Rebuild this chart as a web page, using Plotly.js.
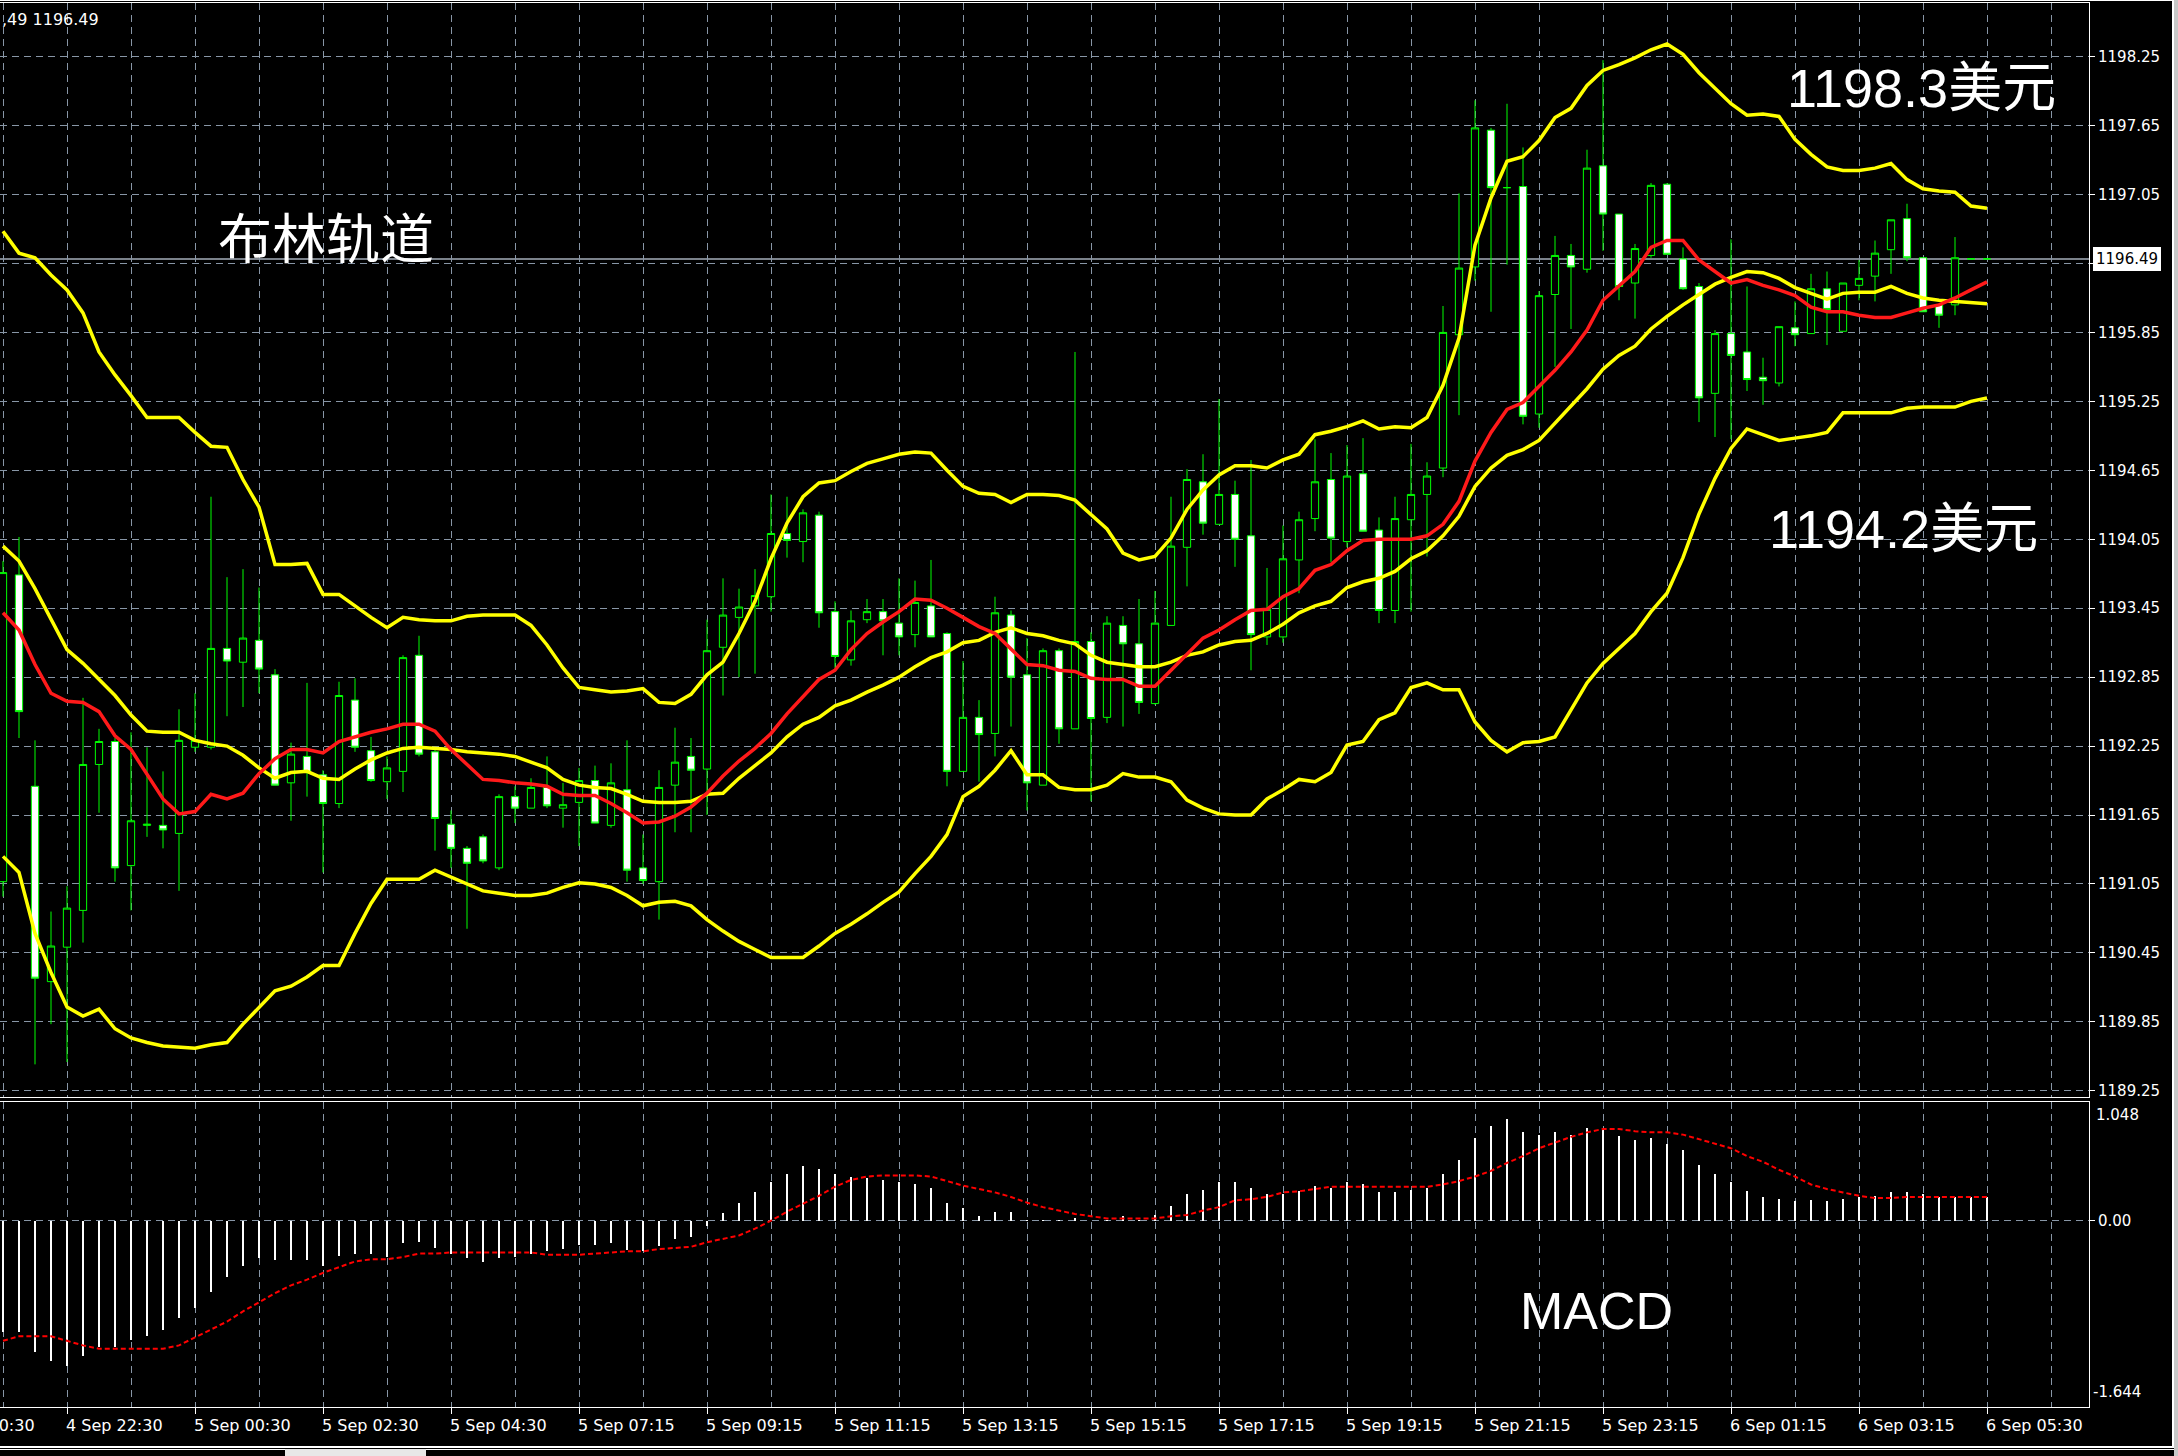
<!DOCTYPE html>
<html><head><meta charset="utf-8">
<script src="https://cdn.plot.ly/plotly-3.0.1.min.js"></script>
<style>html,body{margin:0;padding:0;background:#000;}#chart{width:2178px;height:1456px;}</style>
</head><body><div id="chart"></div>
<script>
// ---- time axis labels (bar index -> label) ----
const timeLabelIndex = [-4,4,12,20,28,36,44,52,60,68,76,84,92,100,108,116,124];
const timeLabels = ['4 Sep 20:30','4 Sep 22:30','5 Sep 00:30','5 Sep 02:30','5 Sep 04:30','5 Sep 07:15','5 Sep 09:15','5 Sep 11:15','5 Sep 13:15','5 Sep 15:15','5 Sep 17:15','5 Sep 19:15','5 Sep 21:15','5 Sep 23:15','6 Sep 01:15','6 Sep 03:15','6 Sep 05:30'];

// ---- price tick labels ----
const priceTicks = [1189.25,1189.85,1190.45,1191.05,1191.65,1192.25,1192.85,1193.45,1194.05,1194.65,1195.25,1195.85,1196.45,1197.05,1197.65,1198.25];
const macdTopLabel = 1.048, macdBottomLabel = -1.644;

// ---- candles (15-minute bars) ----
const openP = [1191.07,1193.74,1191.90,1190.20,1190.50,1190.82,1192.09,1192.29,1191.21,1191.56,
1191.56,1191.49,1192.24,1192.24,1193.10,1192.98,1193.17,1192.87,1191.93,1192.16,
1192.00,1191.75,1192.65,1192.21,1191.94,1192.03,1193.04,1192.20,1191.57,1191.36,
1191.46,1191.19,1191.81,1191.71,1191.89,1191.71,1191.76,1191.95,1191.56,1191.87,
1191.19,1191.07,1191.91,1192.16,1192.05,1193.11,1193.37,1193.47,1193.55,1194.10,
1194.03,1194.26,1193.42,1193.00,1193.35,1193.42,1193.32,1193.22,1193.47,1193.23,
1192.03,1192.50,1192.36,1193.39,1192.87,1191.91,1193.08,1192.40,1193.16,1192.50,
1193.30,1193.14,1192.62,1193.30,1193.98,1194.55,1194.18,1194.44,1194.08,1193.20,
1193.20,1193.87,1194.23,1194.57,1194.03,1194.62,1194.13,1193.43,1194.22,1194.44,
1194.67,1195.83,1196.42,1197.61,1197.11,1197.12,1195.14,1196.18,1196.52,1196.40,
1197.30,1196.88,1196.28,1196.52,1197.14,1196.49,1196.25,1195.32,1195.84,1195.68,
1195.46,1195.41,1195.89,1195.84,1196.23,1195.86,1196.26,1196.34,1196.57,1196.84,
1196.50,1196.09,1196.09,1196.49,1196.49];
const highP = [1193.86,1194.07,1192.30,1190.81,1191.03,1192.67,1192.40,1192.32,1192.37,1192.24,
1192.03,1192.57,1192.71,1194.42,1193.72,1193.79,1193.63,1192.92,1192.28,1192.80,
1192.04,1192.81,1192.84,1192.33,1192.16,1193.04,1193.21,1192.22,1191.69,1191.38,
1191.48,1191.83,1191.90,1191.97,1192.16,1191.93,1192.06,1192.08,1192.10,1192.30,
1191.48,1192.04,1192.41,1192.32,1193.35,1193.71,1193.62,1193.79,1194.44,1194.42,
1194.31,1194.29,1193.51,1193.43,1193.53,1193.53,1193.71,1193.69,1193.87,1193.24,
1192.99,1192.65,1193.55,1193.43,1193.19,1193.10,1193.10,1195.68,1193.24,1193.38,
1193.38,1193.53,1193.60,1194.42,1194.66,1194.79,1195.27,1194.56,1194.74,1193.80,
1194.17,1194.29,1194.92,1194.80,1194.87,1194.93,1194.24,1194.42,1194.88,1194.72,
1196.08,1197.06,1197.87,1197.63,1197.84,1197.46,1196.21,1196.69,1196.62,1197.44,
1198.22,1196.88,1196.62,1197.15,1197.15,1196.59,1196.28,1195.87,1196.66,1196.25,
1195.63,1195.90,1196.12,1196.36,1196.38,1196.28,1196.48,1196.65,1196.83,1196.97,
1196.50,1196.09,1196.68,1196.49,1196.49];
const lowP = [1190.94,1192.32,1189.48,1189.83,1189.50,1190.54,1191.67,1191.07,1190.82,1191.46,
1191.36,1190.99,1192.20,1192.22,1192.51,1192.59,1192.71,1191.91,1191.60,1191.81,
1191.15,1191.71,1192.20,1191.94,1191.79,1191.85,1192.16,1191.34,1191.19,1190.66,
1191.23,1191.17,1191.58,1191.71,1191.71,1191.54,1191.38,1191.58,1191.54,1191.07,
1191.05,1190.74,1191.50,1191.50,1191.65,1192.69,1192.85,1192.88,1193.42,1193.89,
1193.85,1193.28,1192.93,1192.95,1193.32,1193.04,1193.04,1193.11,1193.20,1191.90,
1192.03,1191.94,1192.16,1192.42,1191.69,1191.91,1192.27,1192.40,1191.77,1192.45,
1192.42,1192.53,1192.61,1193.30,1193.64,1194.09,1194.18,1193.81,1192.91,1193.13,
1193.15,1193.58,1194.12,1193.85,1193.98,1194.12,1193.32,1193.32,1193.42,1193.90,
1194.59,1195.13,1196.30,1196.03,1196.44,1195.05,1195.02,1195.55,1195.88,1196.37,
1196.56,1196.13,1195.97,1196.50,1196.53,1196.22,1195.07,1194.94,1194.92,1195.34,
1195.22,1195.38,1195.73,1195.84,1195.74,1195.86,1196.13,1196.12,1196.36,1196.47,
1196.03,1195.89,1196.00,1196.49,1196.49];
const closeP = [1193.76,1192.55,1190.23,1190.51,1190.84,1192.09,1192.29,1191.19,1191.60,1191.57,
1191.52,1192.30,1192.30,1193.10,1192.99,1193.19,1192.92,1191.91,1192.18,1192.02,
1191.75,1192.69,1192.24,1191.95,1192.06,1193.02,1192.18,1191.62,1191.36,1191.23,
1191.25,1191.81,1191.71,1191.89,1191.73,1191.74,1191.95,1191.58,1191.93,1191.17,
1191.08,1191.89,1192.11,1192.04,1193.08,1193.39,1193.46,1193.56,1194.10,1194.04,
1194.28,1193.41,1193.03,1193.34,1193.42,1193.34,1193.20,1193.50,1193.20,1192.03,
1192.50,1192.35,1193.41,1192.85,1191.93,1193.08,1192.40,1193.16,1192.49,1193.32,
1193.14,1192.63,1193.32,1193.99,1194.57,1194.19,1194.44,1194.05,1193.22,1193.44,
1193.88,1194.22,1194.55,1194.06,1194.60,1194.12,1193.43,1194.23,1194.44,1194.60,
1195.85,1196.41,1197.63,1197.11,1197.11,1195.12,1196.17,1196.52,1196.42,1197.28,
1196.88,1196.25,1196.58,1197.13,1196.53,1196.23,1195.28,1195.84,1195.65,1195.44,
1195.43,1195.90,1195.83,1196.23,1196.05,1196.28,1196.32,1196.54,1196.83,1196.50,
1196.03,1196.00,1196.50,1196.49,1196.49];

// ---- Bollinger bands & moving average ----
const bbUpper = [1196.73,1196.54,1196.50,1196.35,1196.22,1196.02,1195.68,1195.48,1195.30,1195.11,
1195.11,1195.11,1194.98,1194.86,1194.85,1194.57,1194.33,1193.83,1193.83,1193.84,
1193.57,1193.57,1193.47,1193.37,1193.28,1193.37,1193.35,1193.34,1193.34,1193.38,
1193.39,1193.39,1193.39,1193.30,1193.13,1192.93,1192.76,1192.74,1192.72,1192.73,
1192.75,1192.63,1192.62,1192.70,1192.87,1192.98,1193.23,1193.51,1193.88,1194.19,
1194.42,1194.54,1194.56,1194.64,1194.71,1194.75,1194.79,1194.81,1194.80,1194.65,
1194.51,1194.45,1194.44,1194.37,1194.44,1194.44,1194.43,1194.39,1194.26,1194.14,
1193.93,1193.87,1193.90,1194.06,1194.31,1194.48,1194.61,1194.69,1194.69,1194.67,
1194.74,1194.79,1194.96,1194.99,1195.03,1195.08,1195.01,1195.03,1195.02,1195.11,
1195.39,1195.80,1196.61,1197.02,1197.34,1197.38,1197.52,1197.72,1197.80,1198.00,
1198.13,1198.18,1198.24,1198.31,1198.36,1198.27,1198.11,1197.97,1197.84,1197.74,
1197.75,1197.73,1197.53,1197.40,1197.29,1197.26,1197.26,1197.28,1197.32,1197.18,
1197.10,1197.08,1197.07,1196.95,1196.93];
const bbMiddle = [1193.99,1193.86,1193.62,1193.35,1193.09,1192.97,1192.83,1192.69,1192.52,1192.38,
1192.37,1192.37,1192.30,1192.27,1192.25,1192.17,1192.06,1191.97,1192.02,1192.03,
1191.97,1191.96,1192.05,1192.13,1192.19,1192.23,1192.24,1192.23,1192.22,1192.20,
1192.19,1192.18,1192.16,1192.11,1192.06,1191.96,1191.91,1191.89,1191.88,1191.83,
1191.77,1191.76,1191.76,1191.77,1191.83,1191.84,1191.97,1192.08,1192.19,1192.33,
1192.44,1192.50,1192.60,1192.65,1192.72,1192.78,1192.85,1192.94,1193.02,1193.07,
1193.15,1193.17,1193.24,1193.28,1193.23,1193.21,1193.17,1193.14,1193.04,1192.98,
1192.96,1192.94,1192.94,1192.98,1193.04,1193.07,1193.13,1193.16,1193.17,1193.23,
1193.31,1193.41,1193.47,1193.51,1193.63,1193.68,1193.71,1193.77,1193.88,1193.95,
1194.08,1194.25,1194.51,1194.67,1194.78,1194.83,1194.91,1195.06,1195.20,1195.36,
1195.53,1195.65,1195.73,1195.88,1195.99,1196.09,1196.18,1196.27,1196.33,1196.38,
1196.37,1196.32,1196.24,1196.19,1196.14,1196.19,1196.20,1196.20,1196.25,1196.19,
1196.15,1196.13,1196.12,1196.11,1196.10];
const bbLower = [1191.29,1191.15,1190.62,1190.28,1189.98,1189.90,1189.96,1189.79,1189.71,1189.67,
1189.64,1189.63,1189.62,1189.65,1189.67,1189.83,1189.98,1190.12,1190.16,1190.24,
1190.34,1190.34,1190.62,1190.88,1191.09,1191.09,1191.09,1191.17,1191.11,1191.05,
1190.99,1190.97,1190.95,1190.95,1190.97,1191.02,1191.06,1191.05,1191.02,1190.95,
1190.86,1190.89,1190.90,1190.86,1190.74,1190.64,1190.55,1190.48,1190.41,1190.41,
1190.41,1190.51,1190.62,1190.70,1190.79,1190.89,1190.98,1191.14,1191.29,1191.48,
1191.81,1191.90,1192.04,1192.21,1192.00,1192.00,1191.89,1191.87,1191.87,1191.91,
1192.01,1191.98,1191.98,1191.94,1191.78,1191.71,1191.66,1191.65,1191.65,1191.79,
1191.87,1191.96,1191.94,1192.02,1192.26,1192.29,1192.48,1192.54,1192.76,1192.80,
1192.74,1192.74,1192.46,1192.30,1192.20,1192.28,1192.29,1192.33,1192.57,1192.80,
1192.97,1193.10,1193.23,1193.42,1193.58,1193.89,1194.27,1194.58,1194.84,1195.01,
1194.96,1194.91,1194.93,1194.95,1194.98,1195.15,1195.15,1195.15,1195.15,1195.19,
1195.20,1195.20,1195.20,1195.25,1195.28];
const maRed = [1193.41,1193.26,1192.96,1192.71,1192.64,1192.63,1192.55,1192.34,1192.22,1192.01,
1191.79,1191.66,1191.68,1191.83,1191.79,1191.84,1192.01,1192.14,1192.22,1192.22,
1192.19,1192.29,1192.33,1192.37,1192.40,1192.44,1192.44,1192.38,1192.22,1192.09,
1191.96,1191.95,1191.93,1191.92,1191.90,1191.83,1191.82,1191.82,1191.75,1191.67,
1191.58,1191.59,1191.64,1191.72,1191.84,1191.99,1192.12,1192.23,1192.36,1192.53,
1192.68,1192.83,1192.91,1193.09,1193.23,1193.33,1193.42,1193.53,1193.52,1193.45,
1193.37,1193.29,1193.23,1193.10,1192.96,1192.95,1192.91,1192.90,1192.84,1192.83,
1192.83,1192.77,1192.77,1192.91,1193.05,1193.19,1193.26,1193.35,1193.43,1193.44,
1193.55,1193.62,1193.78,1193.83,1193.95,1194.04,1194.05,1194.05,1194.05,1194.08,
1194.18,1194.38,1194.73,1194.98,1195.18,1195.24,1195.38,1195.52,1195.68,1195.87,
1196.13,1196.26,1196.38,1196.59,1196.65,1196.65,1196.48,1196.38,1196.28,1196.31,
1196.26,1196.22,1196.17,1196.07,1196.03,1196.03,1196.00,1195.98,1195.98,1196.02,
1196.06,1196.09,1196.15,1196.22,1196.29];

// ---- MACD ----
const macdHist = [-0.98,-0.98,-1.16,-1.24,-1.28,-1.19,-1.11,-1.11,-1.05,-1.02,
-0.96,-0.86,-0.77,-0.63,-0.50,-0.40,-0.33,-0.35,-0.35,-0.35,
-0.40,-0.31,-0.29,-0.29,-0.32,-0.20,-0.19,-0.24,-0.29,-0.33,
-0.36,-0.33,-0.32,-0.29,-0.27,-0.25,-0.21,-0.21,-0.20,-0.26,
-0.27,-0.22,-0.16,-0.14,-0.05,0.07,0.16,0.25,0.34,0.41,
0.48,0.46,0.41,0.39,0.38,0.36,0.34,0.32,0.29,0.16,
0.11,0.04,0.08,0.08,0.01,0.01,0.01,0.02,0.00,0.01,
0.04,0.01,0.05,0.13,0.24,0.27,0.34,0.34,0.29,0.24,
0.24,0.26,0.31,0.29,0.34,0.32,0.25,0.25,0.27,0.29,
0.41,0.54,0.73,0.84,0.90,0.78,0.76,0.78,0.76,0.82,
0.81,0.75,0.71,0.73,0.68,0.62,0.49,0.41,0.34,0.26,
0.21,0.19,0.17,0.18,0.17,0.19,0.21,0.22,0.25,0.25,
0.24,0.21,0.21,0.21,0.21];
const macdSignal = [-1.06,-1.02,-1.02,-1.02,-1.06,-1.10,-1.13,-1.13,-1.13,-1.13,
-1.13,-1.10,-1.03,-0.96,-0.89,-0.80,-0.72,-0.64,-0.57,-0.52,
-0.46,-0.41,-0.36,-0.34,-0.34,-0.32,-0.29,-0.29,-0.28,-0.28,
-0.28,-0.28,-0.28,-0.28,-0.30,-0.30,-0.30,-0.29,-0.28,-0.27,
-0.27,-0.25,-0.24,-0.23,-0.19,-0.16,-0.13,-0.07,0.00,0.08,
0.15,0.22,0.30,0.36,0.39,0.40,0.40,0.40,0.39,0.35,
0.31,0.28,0.25,0.21,0.16,0.12,0.09,0.06,0.04,0.02,
0.02,0.02,0.02,0.04,0.05,0.09,0.12,0.18,0.19,0.21,
0.25,0.26,0.28,0.30,0.30,0.30,0.30,0.30,0.30,0.30,
0.32,0.35,0.39,0.44,0.51,0.57,0.64,0.69,0.74,0.78,
0.81,0.81,0.79,0.78,0.78,0.76,0.72,0.68,0.64,0.57,
0.52,0.45,0.39,0.32,0.28,0.25,0.22,0.20,0.20,0.21,
0.21,0.21,0.21,0.21,0.21];

// ---- build ----
const idx = openP.map((_, i) => i);
const lastPrice = closeP[closeP.length - 1];

const W = 2178, H = 1456;
const mL = 0, mR = 89, mT = 3, mB = 49;
const plotW = W - mL - mR, plotH = H - mT - mB;
const xMin = -0.1875, xMax = 130.375;
const yMin = 1189.196, yMax = 1198.717;
const mainTopPx = 3, mainBotPx = 1097, macdTopPx = 1102, macdBotPx = 1407;
const py = p => (H - mB - p) / plotH;     // pixel row -> paper y
const px = p => (p - mL) / plotW;          // pixel col -> paper x
const ix = i => (i - xMin) / (xMax - xMin);// bar index -> paper x

const gridColor = '#8896a6';
const gridDash = '7px,5px';
const axFont = {family: 'DejaVu Sans', size: 15, color: '#ffffff'};
const dateFont = {family: 'DejaVu Sans', size: 16, color: '#ffffff'};
const yellow = '#ffff00';

const traces = [
  {type: 'candlestick', x: idx, open: openP, high: highP, low: lowP, close: closeP,
   xaxis: 'x', yaxis: 'y', whiskerwidth: 0, hoverinfo: 'skip', showlegend: false,
   increasing: {line: {color: '#00ff00', width: 1}, fillcolor: '#000000'},
   decreasing: {line: {color: '#00ff00', width: 1}, fillcolor: '#ffffff'}},
  {type: 'scatter', mode: 'lines', x: idx, y: bbMiddle, xaxis: 'x', yaxis: 'y', line: {color: yellow, width: 3.5}, hoverinfo: 'skip'},
  {type: 'scatter', mode: 'lines', x: idx, y: bbUpper, xaxis: 'x', yaxis: 'y', line: {color: yellow, width: 3.5}, hoverinfo: 'skip'},
  {type: 'scatter', mode: 'lines', x: idx, y: bbLower, xaxis: 'x', yaxis: 'y', line: {color: yellow, width: 3.5}, hoverinfo: 'skip'},
  {type: 'scatter', mode: 'lines', x: idx, y: maRed, xaxis: 'x', yaxis: 'y', line: {color: '#ff1a1a', width: 3.5}, hoverinfo: 'skip'},
  {type: 'bar', x: idx, y: macdHist, xaxis: 'x2', yaxis: 'y2', width: 0.13, marker: {color: '#ffffff', line: {width: 0}}, hoverinfo: 'skip'},
  {type: 'scatter', mode: 'lines', x: idx, y: macdSignal, xaxis: 'x2', yaxis: 'y2', line: {color: '#ff0000', width: 2, dash: '5px,3px'}, hoverinfo: 'skip'}
];

const annotations = [];
// time labels (left-aligned at their tick like MetaTrader)
timeLabelIndex.forEach((k, j) => {
  annotations.push({xref: 'paper', yref: 'paper', x: ix(k), y: py(1425), xanchor: 'left', yanchor: 'middle',
    xshift: -3, text: timeLabels[j], showarrow: false, font: dateFont});
});
// MACD scale end labels
annotations.push({xref: 'paper', yref: 'y2', x: 1, y: macdTopLabel, xanchor: 'left', yanchor: 'top', xshift: 5, yshift: -2,
  text: macdTopLabel.toFixed(3), showarrow: false, font: axFont});
annotations.push({xref: 'paper', yref: 'y2', x: 1, y: macdBottomLabel, xanchor: 'left', yanchor: 'bottom', xshift: 2, yshift: 4,
  text: macdBottomLabel.toFixed(3), showarrow: false, font: axFont});
// current price box (covers the 1196.45 level label, as in the terminal)
annotations.push({xref: 'paper', yref: 'y', x: 1, y: lastPrice, xanchor: 'left', yanchor: 'middle', xshift: 4,
  text: lastPrice.toFixed(2), showarrow: false, bgcolor: '#ffffff', bordercolor: '#ffffff', borderpad: 2,
  font: {family: 'DejaVu Sans', size: 15, color: '#000000'}});
// header text
annotations.push({xref: 'paper', yref: 'paper', x: 0, y: py(19), xanchor: 'left', yanchor: 'middle',
  text: ',49 1196.49', showarrow: false, font: {family: 'DejaVu Sans', size: 16, color: '#ffffff'}});
// big captions
const capFont = {family: 'Liberation Sans, Noto Sans CJK SC', size: 54, color: '#ffffff'};
annotations.push({xref: 'x', yref: 'y', x: 20.2, y: 1196.69, text: '布林轨道', showarrow: false,
  font: {family: 'Noto Sans CJK SC', size: 54, color: '#ffffff'}});
annotations.push({xref: 'x', yref: 'y', x: 119.9, y: 1197.98, text: '1198.3美元', showarrow: false, font: capFont});
annotations.push({xref: 'x', yref: 'y', x: 118.75, y: 1194.14, text: '1194.2美元', showarrow: false, font: capFont});
annotations.push({xref: 'x2', yref: 'y2', x: 99.6, y: -0.80, text: 'MACD', showarrow: false,
  font: {family: 'Liberation Sans', size: 52, color: '#ffffff'}});

const shapes = [
  // bid price line
  {type: 'line', xref: 'paper', yref: 'y', x0: 0, x1: 1, y0: lastPrice, y1: lastPrice, layer: 'between',
   line: {color: '#a4aeba', width: 1.5}},
  // window frame
  {type: 'line', xref: 'paper', yref: 'paper', x0: px(0), x1: px(2174), y0: py(0.5), y1: py(0.5), line: {color: '#ffffff', width: 1}},
  {type: 'line', xref: 'paper', yref: 'paper', x0: px(2173), x1: px(2173), y0: py(0), y1: py(1447), line: {color: '#ffffff', width: 2}},
  {type: 'rect', xref: 'paper', yref: 'paper', x0: px(2174), x1: px(2178), y0: py(0), y1: py(1456), fillcolor: '#c8c8c8', line: {width: 0}},
  {type: 'line', xref: 'paper', yref: 'paper', x0: px(0), x1: px(2174), y0: py(1447), y1: py(1447), line: {color: '#ffffff', width: 2}},
  {type: 'rect', xref: 'paper', yref: 'paper', x0: px(285), x1: px(426), y0: py(1449), y1: py(1456), fillcolor: '#e8e8e8', line: {width: 0}},
  {type: 'line', xref: 'paper', yref: 'paper', x0: px(0), x1: px(285), y0: py(1449.5), y1: py(1449.5), line: {color: '#ffffff', width: 1}},
  {type: 'line', xref: 'paper', yref: 'paper', x0: px(426), x1: px(2174), y0: py(1449.5), y1: py(1449.5), line: {color: '#ffffff', width: 1}}
];

const layout = {
  width: W, height: H,
  margin: {l: mL, r: mR, t: mT, b: mB, pad: 0},
  paper_bgcolor: '#000000', plot_bgcolor: '#000000',
  showlegend: false, hovermode: false,
  boxgap: 0.35, boxgroupgap: 0.3, bargap: 0,
  xaxis: {domain: [0, 1], anchor: 'y', range: [xMin, xMax], rangeslider: {visible: false},
    tickmode: 'linear', tick0: 0, dtick: 4, showticklabels: false, ticks: '',
    showgrid: true, gridcolor: gridColor, griddash: gridDash, gridwidth: 1, zeroline: false,
    showline: true, mirror: true, linecolor: '#ffffff', linewidth: 1, fixedrange: true},
  yaxis: {domain: [py(mainBotPx), py(mainTopPx)], anchor: 'x', side: 'right', range: [yMin, yMax],
    tickmode: 'array', tickvals: priceTicks,
    ticktext: priceTicks.map(v => Math.abs(v - lastPrice) < 0.1 ? '' : v.toFixed(2)),
    ticks: 'outside', ticklen: 5, tickcolor: '#ffffff', tickfont: axFont,
    showgrid: true, gridcolor: gridColor, griddash: gridDash, gridwidth: 1, zeroline: false,
    showline: true, linecolor: '#ffffff', linewidth: 1, fixedrange: true},
  xaxis2: {domain: [0, 1], anchor: 'y2', range: [xMin, xMax],
    tickmode: 'linear', tick0: 4, dtick: 8, showticklabels: false, ticks: 'outside', ticklen: 6, tickcolor: '#ffffff',
    showgrid: true, gridcolor: gridColor, griddash: gridDash, gridwidth: 1, zeroline: false,
    minor: {tick0: 0, dtick: 4, showgrid: true, gridcolor: gridColor, griddash: gridDash, gridwidth: 1, ticks: ''},
    showline: true, mirror: true, linecolor: '#ffffff', linewidth: 1, fixedrange: true},
  yaxis2: {domain: [py(macdBotPx), py(macdTopPx)], anchor: 'x2', side: 'right', range: [macdBottomLabel, macdTopLabel],
    tickmode: 'array', tickvals: [0], ticktext: ['0.00'], ticks: 'outside', ticklen: 5, tickcolor: '#ffffff', tickfont: axFont,
    showgrid: true, gridcolor: gridColor, griddash: gridDash, gridwidth: 1, zeroline: false,
    showline: true, linecolor: '#ffffff', linewidth: 1, fixedrange: true},
  annotations: annotations,
  shapes: shapes
};

Plotly.newPlot('chart', traces, layout, {staticPlot: true, displayModeBar: false});
</script>
</body></html>
